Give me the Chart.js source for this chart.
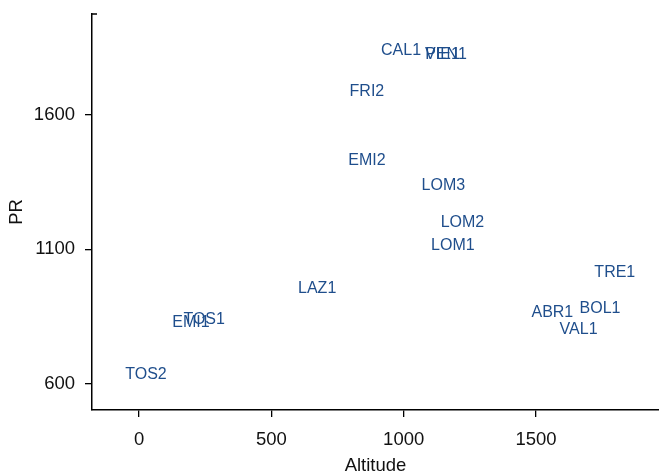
<!DOCTYPE html>
<html lang="en">

<head>
    <script src="https://cdn.jsdelivr.net/npm/chart.js@4"></script>
    <title> PR by altitude </title>
    <style>
        html, body { margin: 0; padding: 0; background: #fff; }
        #wrap { width: 659px; height: 475px; }
    </style>
</head>

<body>
    <div id="wrap"><canvas id="chart"></canvas></div>

    <script language="JavaScript" type="text/javascript">

        // station codes with altitude (m) and PR
        const stations = ["CAL1", "PIE1", "VEN1", "FRI2", "EMI2", "LOM3", "LOM2", "LOM1",
            "TRE1", "LAZ1", "BOL1", "ABR1", "VAL1", "TOS1", "EMI1", "TOS2"];
        const altitude = [990, 1147, 1160, 861, 861, 1150, 1222, 1186,
            1798, 673, 1742, 1562, 1661, 246, 196, 26];
        const pr = [1844, 1830, 1828, 1691, 1435, 1344, 1206, 1120,
            1021, 959, 885, 871, 809, 843, 832, 641];

        const xTicks = [0, 500, 1000, 1500];
        const yTicks = [600, 1100, 1600];

        const labelColor = "#1f4e8c";
        const font = "'Liberation Sans', Arial, sans-serif";

        // write each station code at its point instead of a marker
        const markerLabels = {
            id: "markerLabels",
            afterDatasetsDraw(chart) {
                const ctx = chart.ctx;
                const meta = chart.getDatasetMeta(0);
                ctx.save();
                ctx.fillStyle = labelColor;
                ctx.font = "16px " + font;
                ctx.textAlign = "center";
                ctx.textBaseline = "middle";
                meta.data.forEach((pt, i) => {
                    // nudge down a little so the caps sit centred on the point
                    ctx.fillText(stations[i], pt.x, pt.y + 1.5);
                });
                // little stub at the top of the y axis
                const a = chart.chartArea;
                ctx.strokeStyle = "#000";
                ctx.lineWidth = 1.5;
                ctx.beginPath();
                ctx.moveTo(a.left, a.top);
                ctx.lineTo(a.left + 5, a.top);
                ctx.stroke();
                ctx.restore();
            }
        };

        const pts = altitude.map((x, i) => ({ x: x, y: pr[i] }));

        new Chart(document.getElementById("chart"), {
            type: "scatter",
            data: {
                datasets: [{
                    data: pts,
                    pointRadius: 0,
                    pointHoverRadius: 0
                }]
            },
            options: {
                responsive: true,
                maintainAspectRatio: false,
                animation: false,
                layout: { padding: { top: 14, right: 0, left: 0, bottom: 0 } },
                plugins: {
                    legend: { display: false },
                    tooltip: { enabled: false }
                },
                scales: {
                    x: {
                        type: "linear",
                        min: -178,
                        max: 1965,
                        afterFit: s => { s.height = 65; s.paddingLeft = 0; s.paddingRight = 0; },
                        afterBuildTicks: s => { s.ticks = xTicks.map(v => ({ value: v })); },
                        grid: { drawOnChartArea: false, drawTicks: true, tickLength: 7, color: "#000", lineWidth: 1.3 },
                        border: { display: true, color: "#000", width: 1.5 },
                        ticks: {
                            color: "#111", font: { family: font, size: 18.5 }, padding: 12, maxRotation: 0,
                            callback: v => String(v)
                        },
                        title: { display: true, text: "Altitude", color: "#111", font: { family: font, size: 18.5, lineHeight: 1 }, padding: { top: 0, bottom: 0 } }
                    },
                    y: {
                        type: "linear",
                        min: 503,
                        max: 1975,
                        afterFit: s => { s.width = 92; s.paddingTop = 0; s.paddingBottom = 0; },
                        afterBuildTicks: s => { s.ticks = yTicks.map(v => ({ value: v })); },
                        grid: { drawOnChartArea: false, drawTicks: true, tickLength: 7, color: "#000", lineWidth: 1.3 },
                        border: { display: true, color: "#000", width: 1.5 },
                        ticks: {
                            color: "#111", font: { family: font, size: 18.5 }, padding: 10,
                            callback: v => String(v)
                        },
                        title: { display: true, text: "PR", color: "#111", font: { family: font, size: 18.5, lineHeight: 1 }, padding: { top: 8, bottom: 0 } }
                    }
                }
            },
            plugins: [markerLabels]
        });
    </script>
</body>

</html>
